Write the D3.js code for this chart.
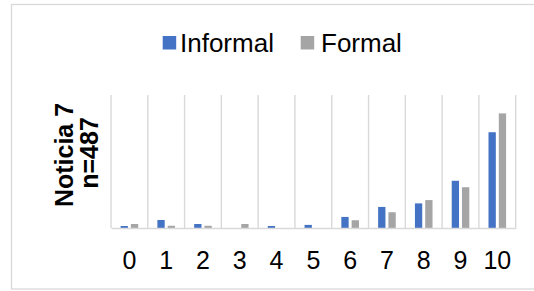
<!DOCTYPE html>
<html>
<head>
<meta charset="utf-8">
<script src="https://cdn.jsdelivr.net/npm/d3@7"></script>
<style>
  html, body { margin: 0; padding: 0; background: #fff; }
  svg { display: block; font-family: "Liberation Sans", Arial, sans-serif; }
</style>
</head>
<body>
<svg id="chart" width="534" height="291"></svg>
<script>
const categories = ["0", "1", "2", "3", "4", "5", "6", "7", "8", "9", "10"];
const seriesNames = ["Informal", "Formal"];
const informal = [0.9, 3.6, 1.8, 0, 0.9, 1.4, 5.0, 9.5, 11.1, 21.3, 43.2];
const formal = [1.8, 1.0, 1.0, 1.8, 0, 0, 3.5, 7.1, 12.6, 18.4, 51.7];
const colors = ["#4472c4", "#a5a5a5"];
const yLabelLines = ["Noticia 7", "n=487"];

const svg = d3.select("#chart");

// outer border
svg.append("rect")
  .attr("x", 11.5).attr("y", 4.5)
  .attr("width", 540).attr("height", 284.5)
  .attr("fill", "none").attr("stroke", "#d9d9d9").attr("stroke-width", 1.3);

const x0 = d3.scaleBand().domain(categories).range([111, 515.7]).paddingInner(0).paddingOuter(0);
const groupW = 17.6;
const off = (x0.bandwidth() - groupW) / 2;
const x1 = d3.scaleBand().domain(seriesNames).range([off, off + groupW]).paddingInner(0.29);
const y = d3.scaleLinear().domain([0, 60]).range([228, 95]);

// vertical gridlines at band boundaries
const bounds = categories.map(c => x0(c)).concat([x0.range()[1]]);
svg.append("g").selectAll("line").data(bounds).join("line")
  .attr("x1", d => d).attr("x2", d => d)
  .attr("y1", y(60)).attr("y2", y(0))
  .attr("stroke", "#d9d9d9").attr("stroke-width", 1.4);

// bars
const data = categories.map((c, i) => ({ cat: c, vals: [informal[i], formal[i]] }));
const groups = svg.append("g").selectAll("g").data(data).join("g")
  .attr("transform", d => `translate(${x0(d.cat)},0)`);
groups.selectAll("rect")
  .data(d => d.vals.map((v, k) => ({ name: seriesNames[k], v, k })))
  .join("rect")
  .attr("x", d => x1(d.name))
  .attr("width", x1.bandwidth())
  .attr("y", d => y(d.v))
  .attr("height", d => y(0) - y(d.v))
  .attr("fill", d => colors[d.k]);

// x axis
const xAxis = d3.axisBottom(x0).tickSize(0).tickPadding(0);
const gx = svg.append("g").attr("transform", `translate(0,${y(0)})`).call(xAxis);
gx.select(".domain").attr("stroke", "#d9d9d9").attr("stroke-width", 1.6);
gx.selectAll(".tick text")
  .attr("y", 40.5).attr("dy", null)
  .attr("font-size", 25).attr("fill", "#000")
  .attr("font-family", "Liberation Sans, Arial, sans-serif");

// y label
const yl = [{ t: yLabelLines[0], x: 72.5, y: 155 }, { t: yLabelLines[1], x: 98.3, y: 153 }];
svg.append("g").selectAll("text").data(yl).join("text")
  .attr("transform", d => `translate(${d.x},${d.y}) rotate(-90)`)
  .attr("text-anchor", "middle")
  .attr("font-size", 25).attr("font-weight", "bold").attr("fill", "#000")
  .text(d => d.t);

// legend
const legendItems = [
  { name: seriesNames[0], color: colors[0], sx: 162.7, tx: 180 },
  { name: seriesNames[1], color: colors[1], sx: 300.7, tx: 321 }
];
const lg = svg.append("g");
lg.selectAll("rect").data(legendItems).join("rect")
  .attr("x", d => d.sx).attr("y", 36).attr("width", 13.5).attr("height", 13.5)
  .attr("fill", d => d.color);
lg.selectAll("text").data(legendItems).join("text")
  .attr("x", d => d.tx).attr("y", 52.3)
  .attr("font-size", 26).attr("fill", "#000")
  .text(d => d.name);
</script>
</body>
</html>
